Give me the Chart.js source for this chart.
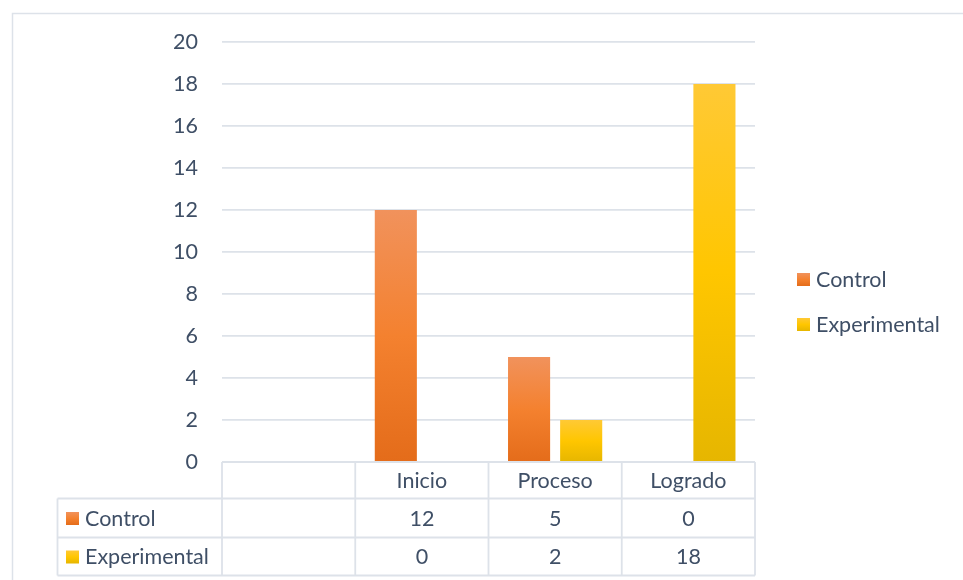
<!DOCTYPE html>
<html>
<head>
<meta charset="utf-8">
<script src="https://cdn.jsdelivr.net/npm/chart.js@4.4.1/dist/chart.umd.min.js"></script>
<style>
  html, body { margin: 0; padding: 0; background: #fff; }
  #wrap { width: 963px; height: 580px; }
</style>
</head>
<body>
<div id="wrap"><canvas id="chart" width="963" height="580"></canvas></div>
<script>
const categories = ["", "Inicio", "Proceso", "Logrado"];
const seriesNames = ["Control", "Experimental"];
const controlValues = [null, 12, 5, 0];
const experimentalValues = [null, 0, 2, 18];
const yTicks = [0, 2, 4, 6, 8, 10, 12, 14, 16, 18, 20];

const FONT = "Lato, 'Open Sans', sans-serif";
const FONT_SIZE = 21.5;
const TEXT = "#3F4F66";
const LINE = "#DDE2E9";
const palettes = [
  ["#F1925C", "#F4812F", "#E46C1A"],
  ["#FFC935", "#FFC600", "#E6B600"]
];

function gradientFor(ctx, top, bottom, stops) {
  const g = ctx.createLinearGradient(0, top, 0, bottom);
  g.addColorStop(0, stops[0]);
  g.addColorStop(0.5, stops[1]);
  g.addColorStop(1, stops[2]);
  return g;
}

function barFill(index) {
  return (context) => {
    const chart = context.chart;
    if (!chart.chartArea || context.raw == null) return palettes[index][1];
    const y = chart.scales.y;
    const top = y.getPixelForValue(context.raw);
    const bottom = y.getPixelForValue(0);
    if (bottom - top < 1) return palettes[index][1];
    return gradientFor(chart.ctx, top, bottom, palettes[index]);
  };
}

function keyBox(ctx, x, y, size, index) {
  ctx.fillStyle = gradientFor(ctx, y, y + size, palettes[index]);
  ctx.fillRect(x, y, size, size);
}

const frame = {
  id: "frame",
  beforeDraw(chart) {
    const ctx = chart.ctx;
    ctx.save();
    ctx.strokeStyle = LINE;
    ctx.lineWidth = 1.5;
    ctx.strokeRect(12.5, 13.5, 1200, 1200);
    ctx.restore();
  }
};

const dataTable = {
  id: "dataTable",
  afterDraw(chart) {
    const ctx = chart.ctx;
    const x = chart.scales.x;
    const area = chart.chartArea;
    const half = (x.getPixelForValue(1) - x.getPixelForValue(0)) / 2;
    const edges = categories.map((c, i) => x.getPixelForValue(i) - half);
    edges.push(x.getPixelForValue(categories.length - 1) + half);
    const left = 57.5;
    const rows = [area.bottom, 498.5, 537.5, 575.5];
    const right = edges[edges.length - 1];

    ctx.save();
    ctx.strokeStyle = LINE;
    ctx.lineWidth = 1.8;
    ctx.beginPath();
    ctx.moveTo(edges[0], rows[0]); ctx.lineTo(right, rows[0]);
    for (let r = 1; r < rows.length; r++) {
      ctx.moveTo(left, rows[r]); ctx.lineTo(right, rows[r]);
    }
    ctx.moveTo(left, rows[1]); ctx.lineTo(left, rows[3]);
    edges.forEach((e) => { ctx.moveTo(e, rows[0]); ctx.lineTo(e, rows[3]); });
    ctx.stroke();

    ctx.fillStyle = TEXT;
    ctx.font = FONT_SIZE + "px " + FONT;
    ctx.textAlign = "center";
    ctx.textBaseline = "middle";
    categories.forEach((c, i) => {
      const cx = x.getPixelForValue(i);
      ctx.fillText(c, cx, (rows[0] + rows[1]) / 2 + 1);
      chart.data.datasets.forEach((ds, d) => {
        const v = ds.data[i];
        if (v != null) ctx.fillText(String(v), cx, (rows[d + 1] + rows[d + 2]) / 2 + 1);
      });
    });

    ctx.textAlign = "left";
    chart.data.datasets.forEach((ds, d) => {
      const cy = (rows[d + 1] + rows[d + 2]) / 2;
      keyBox(ctx, 66, cy - 6, 13, d);
      ctx.fillStyle = TEXT;
      ctx.fillText(ds.label, 85, cy + 1);
    });

    // legend on the right
    chart.data.datasets.forEach((ds, d) => {
      const cy = 279 + d * 45;
      keyBox(ctx, 797, cy - 6, 13, d);
      ctx.fillStyle = TEXT;
      ctx.fillText(ds.label, 816, cy + 1);
    });
    ctx.restore();
  }
};

new Chart(document.getElementById("chart").getContext("2d"), {
  type: "bar",
  data: {
    labels: categories,
    datasets: [
      { label: seriesNames[0], data: controlValues, backgroundColor: barFill(0) },
      { label: seriesNames[1], data: experimentalValues, backgroundColor: barFill(1) }
    ]
  },
  options: {
    responsive: false,
    animation: false,
    events: [],
    layout: { padding: { left: 0, right: 208, top: 42, bottom: 118 } },
    datasets: { bar: { categoryPercentage: 0.782, barPercentage: 0.808 } },
    scales: {
      x: { display: false },
      y: {
        min: 0,
        max: 20,
        afterFit: (scale) => { scale.width = 222; },
        afterBuildTicks: (scale) => { scale.ticks = yTicks.map((v) => ({ value: v })); },
        grid: { color: LINE, lineWidth: 1.8, drawTicks: false },
        border: { display: false },
        ticks: { color: TEXT, font: { family: FONT, size: FONT_SIZE }, padding: 24 }
      }
    },
    plugins: { legend: { display: false }, tooltip: { enabled: false } }
  },
  plugins: [frame, dataTable]
});
</script>
</body>
</html>
